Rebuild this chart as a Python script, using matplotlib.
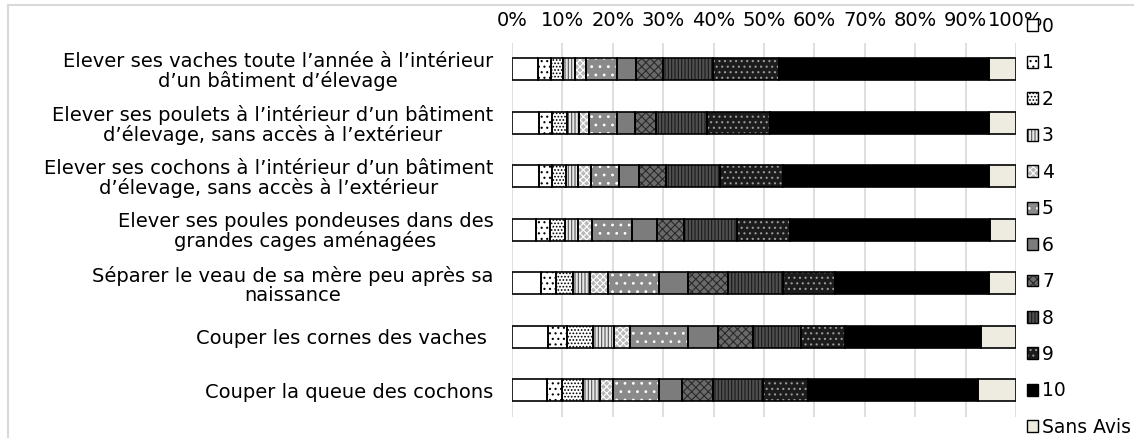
import matplotlib
matplotlib.use("Agg")
import matplotlib.pyplot as plt
import numpy as np
from matplotlib.patches import Patch
from matplotlib.lines import Line2D
from matplotlib.legend_handler import HandlerTuple

categories = [
    "Elever ses vaches toute l\u2019ann\u00e9e \u00e0 l\u2019int\u00e9rieur\nd\u2019un b\u00e2timent d\u2019\u00e9levage",
    "Elever ses poulets \u00e0 l\u2019int\u00e9rieur d\u2019un b\u00e2timent\nd\u2019\u00e9levage, sans acc\u00e8s \u00e0 l\u2019ext\u00e9rieur",
    "Elever ses cochons \u00e0 l\u2019int\u00e9rieur d\u2019un b\u00e2timent\nd\u2019\u00e9levage, sans acc\u00e8s \u00e0 l\u2019ext\u00e9rieur",
    "Elever ses poules pondeuses dans des\ngrandes cages am\u00e9nag\u00e9es",
    "S\u00e9parer le veau de sa m\u00e8re peu apr\u00e8s sa\nnaissance",
    "Couper les cornes des vaches ",
    "Couper la queue des cochons",
]

series_labels = ["0", "1", "2", "3", "4", "5", "6", "7", "8", "9", "10", "Sans Avis"]

score_0 = [5.1, 5.3, 5.3, 4.8, 5.8, 7.1, 6.9]
score_1 = [2.6, 2.6, 2.7, 2.7, 2.9, 3.8, 3.0]
score_2 = [2.4, 3.0, 2.7, 3.1, 3.5, 5.1, 4.2]
score_3 = [2.4, 2.4, 2.4, 2.4, 3.3, 4.2, 3.4]
score_4 = [2.2, 2.0, 2.6, 2.9, 3.6, 3.3, 2.6]
score_5 = [6.1, 5.5, 5.5, 8.0, 10.1, 11.4, 9.1]
score_6 = [3.8, 3.6, 3.9, 4.8, 5.8, 6.0, 4.6]
score_7 = [5.4, 4.1, 5.5, 5.4, 7.8, 7.0, 6.1]
score_8 = [9.9, 10.1, 10.7, 10.5, 11.0, 9.5, 9.9]
score_9 = [13.1, 12.6, 12.5, 10.6, 10.3, 8.6, 8.9]
score_10 = [41.6, 43.4, 40.8, 39.6, 30.5, 27.1, 33.7]
sans_avis = [5.4, 5.4, 5.4, 5.2, 5.4, 6.9, 7.6]

series = [score_0, score_1, score_2, score_3, score_4, score_5, score_6,
          score_7, score_8, score_9, score_10, sans_avis]

x_ticks = [0, 10, 20, 30, 40, 50, 60, 70, 80, 90, 100]
x_ticklabels = ["0%", "10%", "20%", "30%", "40%", "50%", "60%", "70%", "80%", "90%", "100%"]

# (facecolor, hatch, hatchcolor)
styles = [
    ("#ffffff", None, "#000000"),
    ("#ffffff", "...", "#000000"),
    ("#ffffff", ".....", "#000000"),
    ("#e8e8e8", "|||||", "#555555"),
    ("#b8b8b8", "xxxxx", "#ffffff"),
    ("#8a8a8a", "..", "#ffffff"),
    ("#7c7c7c", None, "#000000"),
    ("#6a6a6a", "xxxx", "#2a2a2a"),
    ("#505050", "|||||", "#1a1a1a"),
    ("#1c1c1c", "...", "#9a9a9a"),
    ("#000000", None, "#000000"),
    ("#eeece1", None, "#000000"),
]

plt.rcParams["font.family"] = ["DejaVu Sans"]
plt.rcParams["hatch.linewidth"] = 0.8

W, H = 1134, 438
fig = plt.figure(figsize=(W / 100, H / 100), dpi=100)
ax = fig.add_axes([512 / W, 1 - 417 / H, (1016 - 512) / W, (417 - 42.5) / H])

y = np.arange(len(categories))
left = np.zeros(len(categories))
bar_h = 0.41
fs = 14
for vals, (fc, hatch, hc) in zip(series, styles):
    vals = np.array(vals)
    ax.barh(y, vals, left=left, height=bar_h, color=fc, hatch=hatch,
            edgecolor=hc, linewidth=0, zorder=2)
    ax.barh(y, vals, left=left, height=bar_h, fill=False,
            edgecolor="#000000", linewidth=1.2, zorder=3)
    left += vals

ax.set_xlim(0, 100)
ax.set_ylim(len(categories) - 0.5, -0.5)
ax.xaxis.tick_top()
ax.set_xticks(x_ticks)
ax.set_xticklabels(x_ticklabels, fontsize=fs)
ax.set_yticks(y)
ax.set_yticklabels(categories, fontsize=fs, multialignment="center", linespacing=1.0)
ax.tick_params(axis="x", length=0, pad=9)
ax.tick_params(axis="y", length=0, pad=13.5)
ax.grid(axis="x", color="#d9d9d9", linewidth=1.2, zorder=0)
ax.set_axisbelow(True)
for s in ax.spines.values():
    s.set_visible(False)

# chart border (light gray)
fig.add_artist(Line2D([8 / W, 1.0], [1 - 5 / H, 1 - 5 / H], transform=fig.transFigure,
                      color="#d9d9d9", linewidth=1.5))
fig.add_artist(Line2D([8 / W, 8 / W], [0.0, 1 - 5 / H], transform=fig.transFigure,
                      color="#d9d9d9", linewidth=1.5))

handles = []
for fc, hatch, hc in styles:
    p1 = Patch(facecolor=fc, hatch=hatch, edgecolor=hc, linewidth=0)
    p2 = Patch(fill=False, edgecolor="#000000", linewidth=1.0)
    handles.append((p1, p2))

fig.legend(handles, series_labels, loc="upper left",
           bbox_to_anchor=(1027 / W, 1 - 17 / H), frameon=False,
           fontsize=13.5, handlelength=0.6, handleheight=0.6,
           handletextpad=0.2, labelspacing=0.93, borderpad=0, borderaxespad=0,
           handler_map={tuple: HandlerTuple(ndivide=1, pad=0)})

fig.savefig("out.png", dpi=100)
